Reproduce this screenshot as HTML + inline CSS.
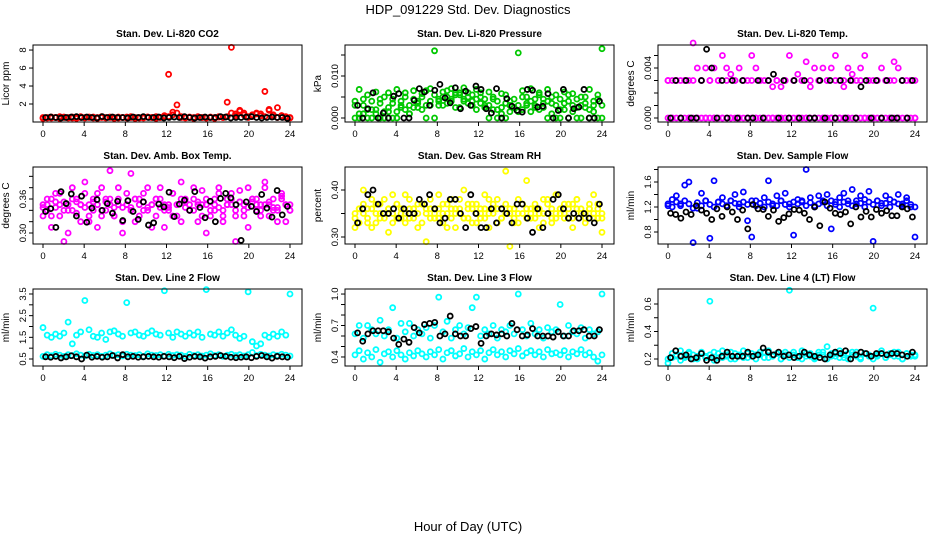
<!DOCTYPE html>
<html><head><meta charset="utf-8">
<style>
html,body{margin:0;padding:0;background:#fff;}
svg{display:block;font-family:"Liberation Sans",Arial,sans-serif;}
</style></head>
<body>
<svg id="chart" width="936" height="540" viewBox="0 0 936 540">
<text x="468" y="14" font-size="13" text-anchor="middle">HDP_091229  Std. Dev. Diagnostics</text>
<text x="468" y="531" font-size="13" text-anchor="middle">Hour of Day (UTC)</text>
</svg>
<script>
// ---- data (values per series; x = hour of day, evenly sampled) ----
const xTicks = [0,4,8,12,16,20,24];
const co2A = [0.5,0.45,0.55,0.5,0.6,0.5,0.45,0.55,0.5,0.6,0.5,0.55,0.45,0.5,0.6,0.5,0.55,0.5,0.45,0.5,0.55,0.6,0.5,0.45,0.5,0.55,0.5,0.6,0.5,0.55,5.3,0.8,1.9,0.6,0.5,0.55,0.5,0.6,0.5,0.45,0.55,0.5,0.6,0.5,2.2,8.3,0.9,1.3,1.0,0.6,0.8,0.9,0.7,3.4,1.4,0.6,1.6,0.7,0.5,0.5];
const co2B = [0.4,0.5,0.45,0.5,0.4,0.55,0.5,0.45,0.4,0.5,0.45,0.5,0.55,0.4,0.5,0.45,0.5,0.4,0.55,0.5,0.45,0.5,0.4,0.5,0.45,0.55,0.5,0.4,0.5,0.7,0.6,1.1,1.0,0.5,0.45,0.5,0.4,0.55,0.5,0.45,0.5,0.4,0.55,0.5,0.6,1.0,0.7,1.2,0.8,0.5,0.6,1.0,0.9,0.6,1.3,0.8,0.5,0.7,0.6,0.45];
const co2Black = [0.5,0.55,0.5,0.45,0.5,0.55,0.6,0.5,0.55,0.5,0.45,0.6,0.5,0.55,0.5,0.5,0.45,0.55,0.5,0.6,0.5,0.5,0.55,0.45,0.5,0.55,0.5,0.6,0.5,0.45,0.5,0.55,0.5,0.5,0.6,0.55,0.45,0.5,0.5,0.55,0.6,0.5,0.45,0.5,0.55,0.5,0.5,0.4];

const pressA = [0.0040,0.0068,0.0030,0.0055,0.0020,0.0062,0.0045,0.0015,0.0060,0.0035,0.0068,0.0025,0.0050,0.0010,0.0065,0.0040,0.0058,0.0030,0.0070,0.0160,0.0045,0.0062,0.0035,0.0070,0.0055,0.0025,0.0072,0.0060,0.0040,0.0068,0.0050,0.0030,0.0062,0.0045,0.0020,0.0058,0.0035,0.0040,0.0025,0.0155,0.0065,0.0050,0.0070,0.0030,0.0060,0.0045,0.0068,0.0035,0.0055,0.0020,0.0062,0.0040,0.0058,0.0025,0.0050,0.0035,0.0068,0.0030,0.0045,0.0165];
const pressB = [0,0,0.0010,0,0,0.0020,0,0,0.0015,0,0,0.0030,0.0020,0.0010,0.0025,0.0035,0.0020,0,0.0030,0,0.0040,0.0030,0.0050,0.0045,0.0060,0.0055,0.0040,0.0050,0.0030,0.0045,0.0035,0.0025,0,0.0020,0,0.0010,0,0.0030,0.0025,0.0015,0.0020,0.0030,0.0040,0.0025,0.0020,0.0035,0,0.0010,0,0,0.0020,0,0.0030,0,0,0.0025,0,0.0015,0,0];
const pressC = [0.0030,0.0010,0.0045,0.0020,0.0040,0.0010,0.0035,0.0050,0.0025,0.0045,0.0015,0.0040,0.0060,0.0030,0.0045,0.0025,0.0050,0.0065,0.0040,0.0055,0.0030,0.0050,0.0065,0.0040,0.0025,0.0060,0.0045,0.0035,0.0055,0.0020,0.0060,0.0045,0.0030,0.0050,0.0040,0.0025,0.0055,0.0015,0.0045,0.0030,0.0050,0.0035,0.0015,0.0045,0.0055,0.0025,0.0040,0.0050,0.0030,0.0045,0.0035,0.0055,0.0015,0.0045,0.0030,0.0050,0.0020,0.0040,0.0055,0.0030];
const pressBlack = [0.0030,0,0.0022,0.0060,0,0.0012,0,0.0052,0.0058,0,0,0.0042,0.0070,0.0062,0.0030,0.0066,0.0080,0.0048,0.0036,0.0072,0.0022,0.0064,0.0030,0.0076,0.0068,0.0022,0.0012,0.0070,0,0.0046,0.0028,0.0018,0.0014,0.0068,0.0066,0.0026,0.0028,0.0058,0,0.0018,0.0068,0,0.0022,0.0026,0.0068,0,0,0.0040];

const tempA = [0,0,0,0,0,0,0,0,0,0,0,0,0,0,0,0,0,0,0,0,0,0,0,0,0,0,0,0,0,0,0,0,0,0,0,0,0,0,0,0,0,0,0,0,0,0,0,0,0,0,0,0,0,0,0,0,0,0,0,0];
const tempB = [0.003,0.003,0.003,0.003,0.003,0.003,0.006,0.004,0.003,0.004,0.003,0.004,0.003,0.005,0.004,0.0035,0.003,0.004,0.003,0.003,0.005,0.004,0.003,0.003,0.003,0.0025,0.003,0.0025,0.003,0.005,0.003,0.0035,0.003,0.0045,0.0025,0.004,0.003,0.004,0.003,0.004,0.005,0.003,0.0025,0.004,0.0035,0.003,0.004,0.005,0.003,0.003,0.003,0.004,0.003,0.003,0.0045,0.004,0.003,0.003,0.003,0.003];
const tempC = [0.003,0,0.003,0,0.003,0,0.003,0,0.003,0,0.003,0,0.003,0,0.003,0,0.003,0,0.003,0,0.003,0,0.003,0,0.003,0,0.003,0,0.003,0,0.003,0,0.003,0,0.003,0,0.003,0,0.003,0,0.003,0,0.003,0,0.003,0,0.003,0,0.003,0,0.003,0,0.003,0,0.003,0,0.003,0,0.003,0];
const tempBlack = [0,0.003,0,0.003,0,0,0.003,0.0055,0.004,0,0.003,0,0.003,0,0.003,0,0,0.003,0,0.003,0.0035,0,0.003,0,0.003,0,0.003,0,0,0.003,0,0.003,0,0.003,0,0.003,0,0.0025,0.003,0,0.003,0,0.003,0,0,0.003,0,0.003];

const ambA = [0.345,0.36,0.33,0.37,0.35,0.285,0.34,0.38,0.355,0.32,0.39,0.35,0.34,0.37,0.33,0.36,0.41,0.345,0.38,0.32,0.35,0.405,0.36,0.33,0.37,0.345,0.31,0.36,0.38,0.34,0.35,0.37,0.33,0.39,0.355,0.34,0.36,0.32,0.375,0.35,0.33,0.36,0.38,0.34,0.35,0.37,0.285,0.355,0.33,0.38,0.36,0.34,0.35,0.39,0.33,0.36,0.345,0.37,0.32,0.35];
const ambB = [0.33,0.35,0.31,0.355,0.37,0.34,0.30,0.36,0.335,0.35,0.37,0.32,0.355,0.31,0.38,0.34,0.36,0.33,0.35,0.30,0.37,0.345,0.32,0.36,0.34,0.38,0.35,0.33,0.36,0.31,0.345,0.37,0.35,0.32,0.36,0.34,0.38,0.35,0.33,0.30,0.355,0.34,0.37,0.32,0.35,0.36,0.33,0.375,0.34,0.31,0.355,0.36,0.33,0.38,0.35,0.34,0.32,0.365,0.35,0.34];
const ambC = [0.35,0.34,0.36,0.345,0.33,0.355,0.35,0.34,0.36,0.35,0.345,0.33,0.36,0.35,0.34,0.355,0.35,0.33,0.36,0.345,0.35,0.34,0.36,0.35,0.355,0.34,0.35,0.36,0.345,0.35,0.34,0.33,0.35,0.36,0.345,0.35,0.34,0.355,0.35,0.36,0.34,0.35,0.345,0.33,0.36,0.35,0.34,0.355,0.35,0.345,0.36,0.35,0.34,0.35,0.355,0.345,0.34,0.36,0.35,0.34];
const ambBlack = [0.338,0.343,0.310,0.373,0.352,0.369,0.330,0.365,0.319,0.344,0.359,0.340,0.352,0.335,0.356,0.322,0.357,0.338,0.324,0.355,0.314,0.318,0.351,0.346,0.372,0.329,0.351,0.358,0.340,0.373,0.345,0.327,0.356,0.320,0.361,0.370,0.362,0.350,0.287,0.355,0.347,0.338,0.368,0.344,0.328,0.375,0.332,0.347];

const rhA = [0.32,0.36,0.40,0.34,0.38,0.33,0.37,0.35,0.31,0.39,0.34,0.36,0.33,0.38,0.35,0.32,0.37,0.29,0.36,0.34,0.39,0.33,0.35,0.38,0.32,0.36,0.40,0.34,0.37,0.33,0.35,0.39,0.32,0.36,0.38,0.34,0.44,0.28,0.36,0.33,0.37,0.42,0.34,0.36,0.32,0.38,0.35,0.33,0.39,0.36,0.34,0.37,0.32,0.38,0.35,0.33,0.36,0.39,0.34,0.31];
const rhB = [0.35,0.33,0.37,0.36,0.32,0.35,0.34,0.38,0.36,0.33,0.37,0.35,0.39,0.34,0.36,0.37,0.33,0.35,0.38,0.36,0.34,0.37,0.32,0.36,0.35,0.38,0.34,0.36,0.33,0.37,0.36,0.34,0.38,0.35,0.33,0.36,0.37,0.35,0.33,0.38,0.35,0.34,0.36,0.37,0.35,0.33,0.38,0.36,0.34,0.35,0.37,0.36,0.34,0.38,0.36,0.35,0.37,0.34,0.36,0.35];
const rhC = [0.34,0.36,0.35,0.33,0.36,0.37,0.35,0.34,0.36,0.35,0.37,0.34,0.35,0.36,0.34,0.35,0.37,0.36,0.34,0.35,0.36,0.35,0.37,0.34,0.36,0.35,0.34,0.37,0.36,0.35,0.34,0.36,0.35,0.37,0.36,0.34,0.35,0.36,0.34,0.35,0.37,0.36,0.35,0.34,0.36,0.35,0.37,0.34,0.35,0.36,0.35,0.34,0.37,0.36,0.35,0.34,0.36,0.35,0.37,0.34];
const rhBlack = [0.33,0.36,0.39,0.40,0.37,0.35,0.35,0.36,0.34,0.36,0.35,0.35,0.38,0.37,0.39,0.36,0.33,0.34,0.38,0.38,0.35,0.32,0.39,0.35,0.32,0.32,0.36,0.33,0.36,0.35,0.33,0.37,0.37,0.34,0.31,0.36,0.32,0.35,0.38,0.39,0.36,0.34,0.35,0.34,0.35,0.34,0.33,0.37];

const flowA = [1.22,1.32,1.38,1.25,1.55,1.60,0.63,1.18,1.42,1.30,0.70,1.62,1.28,1.35,1.22,1.30,1.40,1.25,1.44,0.98,0.72,1.30,1.26,1.35,1.62,1.22,1.38,1.30,1.42,1.25,0.75,1.32,1.28,1.80,1.35,1.22,1.38,1.30,1.40,0.85,1.28,1.35,1.42,1.30,1.48,1.25,1.38,1.32,1.45,0.65,1.30,1.26,1.38,1.32,1.28,1.40,1.25,1.35,1.20,0.72];
const flowB = [1.25,1.20,1.28,1.22,1.30,1.25,1.18,1.27,1.22,1.30,1.24,1.20,1.28,1.25,1.22,1.30,1.26,1.20,1.28,1.24,1.30,1.22,1.26,1.20,1.28,1.25,1.22,1.30,1.24,1.20,1.28,1.25,1.30,1.22,1.27,1.20,1.25,1.28,1.22,1.30,1.24,1.20,1.28,1.25,1.22,1.30,1.26,1.20,1.28,1.24,1.30,1.22,1.26,1.20,1.28,1.25,1.22,1.30,1.24,1.20];
const flowBlack = [1.10,1.08,1.02,1.12,1.08,1.22,1.15,1.10,1.00,1.17,1.05,1.20,1.12,1.00,1.15,0.85,1.24,1.17,1.16,1.05,1.15,0.97,1.03,1.09,1.16,1.15,1.10,1.00,1.20,0.90,1.28,1.18,1.10,1.08,1.12,0.93,1.20,1.04,1.13,1.04,1.16,1.10,1.14,1.06,1.06,1.20,1.17,1.04];

const line2A = [1.95,1.60,1.50,1.65,1.55,1.70,2.20,1.20,1.60,1.75,3.20,1.85,1.55,1.50,1.70,1.40,1.75,1.80,1.65,1.55,3.10,1.70,1.75,1.60,1.55,1.70,1.80,1.65,1.60,3.65,1.70,1.50,1.75,1.65,1.55,1.70,1.60,1.75,1.50,3.70,1.65,1.60,1.75,1.55,1.70,1.85,1.60,1.45,1.55,3.60,1.30,1.10,1.20,1.60,1.50,1.65,1.55,1.75,1.60,3.50];
const line2B = [0.62,0.70,0.65,0.72,0.68,0.62,0.70,0.66,0.74,0.68,0.64,0.72,0.66,0.70,0.62,0.68,0.74,0.66,0.70,0.64,0.72,0.68,0.66,0.70,0.62,0.74,0.68,0.66,0.70,0.64,0.72,0.66,0.70,0.68,0.62,0.72,0.66,0.70,0.64,0.68,0.74,0.66,0.70,0.62,0.68,0.72,0.66,0.70,0.64,0.70,0.80,0.66,0.72,0.68,0.64,0.70,0.66,0.72,0.68,0.64];
const line2Black = [0.60,0.58,0.62,0.55,0.60,0.65,0.60,0.50,0.68,0.58,0.62,0.58,0.60,0.66,0.55,0.70,0.60,0.62,0.58,0.60,0.62,0.60,0.58,0.62,0.60,0.56,0.62,0.52,0.58,0.62,0.60,0.54,0.60,0.62,0.66,0.62,0.58,0.56,0.58,0.60,0.56,0.62,0.66,0.60,0.54,0.62,0.60,0.58];

const line3A = [0.62,0.70,0.58,0.70,0.66,0.62,0.75,0.60,0.66,0.87,0.58,0.72,0.64,0.72,0.60,0.66,0.62,0.68,0.58,0.70,0.97,0.64,0.74,0.58,0.66,0.70,0.62,0.68,0.87,0.97,0.60,0.66,0.62,0.70,0.58,0.66,0.64,0.70,0.62,1.00,0.66,0.60,0.72,0.62,0.66,0.58,0.68,0.64,0.66,0.90,0.60,0.70,0.64,0.62,0.68,0.58,0.66,0.62,0.64,1.00];
const line3B = [0.42,0.46,0.38,0.44,0.40,0.47,0.35,0.43,0.45,0.40,0.46,0.42,0.38,0.44,0.41,0.46,0.43,0.40,0.45,0.42,0.47,0.38,0.44,0.46,0.41,0.43,0.48,0.40,0.45,0.42,0.46,0.38,0.44,0.47,0.42,0.45,0.40,0.46,0.43,0.48,0.41,0.44,0.46,0.42,0.45,0.40,0.47,0.43,0.44,0.42,0.46,0.40,0.45,0.43,0.47,0.42,0.44,0.40,0.36,0.42];
const line3Black = [0.63,0.55,0.62,0.65,0.65,0.65,0.64,0.58,0.52,0.57,0.54,0.68,0.63,0.71,0.72,0.73,0.60,0.62,0.79,0.62,0.60,0.60,0.67,0.69,0.53,0.60,0.62,0.61,0.62,0.60,0.72,0.66,0.60,0.61,0.67,0.60,0.60,0.60,0.59,0.64,0.60,0.60,0.65,0.65,0.66,0.60,0.60,0.66];

const line4A = [0.20,0.24,0.22,0.26,0.21,0.25,0.23,0.20,0.24,0.22,0.62,0.25,0.21,0.26,0.23,0.20,0.24,0.22,0.26,0.21,0.24,0.23,0.25,0.21,0.26,0.22,0.24,0.20,0.25,0.70,0.23,0.21,0.26,0.22,0.24,0.20,0.25,0.23,0.29,0.24,0.22,0.26,0.21,0.24,0.23,0.25,0.20,0.24,0.22,0.57,0.23,0.26,0.21,0.24,0.22,0.25,0.20,0.24,0.23,0.22];
const line4B = [0.17,0.21,0.23,0.19,0.22,0.24,0.20,0.22,0.25,0.21,0.23,0.19,0.24,0.21,0.22,0.25,0.20,0.23,0.21,0.24,0.22,0.20,0.23,0.25,0.21,0.22,0.24,0.20,0.23,0.21,0.25,0.22,0.20,0.24,0.22,0.21,0.23,0.25,0.20,0.22,0.24,0.21,0.23,0.20,0.25,0.22,0.21,0.24,0.23,0.20,0.22,0.24,0.21,0.23,0.25,0.22,0.20,0.24,0.22,0.23];
const line4Black = [0.21,0.26,0.22,0.23,0.20,0.21,0.24,0.19,0.21,0.19,0.22,0.25,0.22,0.22,0.22,0.25,0.22,0.23,0.28,0.25,0.23,0.25,0.22,0.23,0.21,0.22,0.25,0.23,0.22,0.21,0.20,0.23,0.25,0.24,0.26,0.20,0.23,0.25,0.24,0.22,0.24,0.24,0.23,0.24,0.24,0.23,0.22,0.25];

// ---- panel layout (axis domains & placement) ----
const cols = [33, 345, 658];
const rows = [45, 167, 289];
const PW = 269, PH = 77;
const panels = [
 {name:'co2',title:'Stan. Dev. Li-820 CO2',ylab:'Licor ppm',c:0,r:0,ymin:0,ymax:8.56,ticks:[2,4,6,8],labels:['2','4','6','8'],color:'#ff0000',series:[co2A,co2B],black:co2Black},
 {name:'pressure',title:'Stan. Dev. Li-820 Pressure',ylab:'kPa',c:1,r:0,ymin:-0.00095,ymax:0.01738,ticks:[0,0.005,0.010,0.015],labels:['0.000','','0.010',''],color:'#00c800',series:[pressA,pressB,pressC],black:pressBlack},
 {name:'temp',title:'Stan. Dev. Li-820 Temp.',ylab:'degrees C',c:2,r:0,ymin:-0.00032,ymax:0.00584,ticks:[0,0.001,0.002,0.003,0.004,0.005],labels:['0.000','','','','0.004',''],color:'#ff00ff',series:[tempA,tempB,tempC],black:tempBlack},
 {name:'amb-box-temp',title:'Stan. Dev. Amb. Box Temp.',ylab:'degrees C',c:0,r:1,ymin:0.2806,ymax:0.4165,ticks:[0.30,0.32,0.34,0.36,0.38,0.40],labels:['0.30','','','0.36','',''],color:'#ff00ff',series:[ambA,ambB,ambC],black:ambBlack},
 {name:'gas-rh',title:'Stan. Dev. Gas Stream RH',ylab:'percent',c:1,r:1,ymin:0.2851,ymax:0.4489,ticks:[0.30,0.35,0.40],labels:['0.30','','0.40'],color:'#ffff00',series:[rhA,rhB,rhC],black:rhBlack},
 {name:'sample-flow',title:'Stan. Dev. Sample Flow',ylab:'ml/min',c:2,r:1,ymin:0.608,ymax:1.84,ticks:[0.8,1.0,1.2,1.4,1.6,1.8],labels:['0.8','','1.2','','1.6',''],color:'#0000ff',series:[flowA,flowB],black:flowBlack},
 {name:'line2-flow',title:'Stan. Dev. Line 2 Flow',ylab:'ml/min',c:0,r:2,ymin:0.177,ymax:3.73,ticks:[0.5,1,1.5,2,2.5,3,3.5],labels:['0.5','','1.5','','2.5','','3.5'],color:'#00ffff',series:[line2A,line2B],black:line2Black},
 {name:'line3-flow',title:'Stan. Dev. Line 3 Flow',ylab:'ml/min',c:1,r:2,ymin:0.314,ymax:1.048,ticks:[0.4,0.5,0.6,0.7,0.8,0.9,1.0],labels:['0.4','','','0.7','','','1.0'],color:'#00ffff',series:[line3A,line3B],black:line3Black},
 {name:'line4-flow',title:'Stan. Dev. Line 4 (LT) Flow',ylab:'ml/min',c:2,r:2,ymin:0.149,ymax:0.709,ticks:[0.2,0.3,0.4,0.5,0.6],labels:['0.2','','0.4','','0.6'],color:'#00ffff',series:[line4A,line4B],black:line4Black}
];

const NS = 'http://www.w3.org/2000/svg';
const svg = document.getElementById('chart');
function mk(tag, attrs, parent){
  const e = document.createElementNS(NS, tag);
  for (const k in attrs) e.setAttribute(k, attrs[k]);
  (parent||svg).appendChild(e);
  return e;
}
function fmt(v){return +v.toFixed(6);}

panels.forEach(p => {
  const L = cols[p.c], T = rows[p.r], B = T + PH;
  const xS = h => L + 10 + h / 24 * 247;
  const yS = v => B - (v - p.ymin) / (p.ymax - p.ymin) * PH;
  const g = mk('g', {});
  
  

  const t = mk('text', {x: L + PW/2, y: T - 8, 'font-size': 10, 'font-weight': 'bold', 'text-anchor': 'middle'}, g);
  t.textContent = p.title;
  
  

  const yt = mk('text', {x: 0, y: 0, 'font-size': 10, 'text-anchor': 'middle', transform: 'translate(' + (L - 24) + ',' + (T + PH/2) + ') rotate(-90)'}, g);
  yt.textContent = p.ylab;
  
  

  // points
  const pg = mk('g', {fill: 'none', 'stroke-width': 1.8}, g);
  
  
  p.series.forEach(arr => {
    arr.forEach((v, i) => {
      const h = i * 24 / (arr.length - 1);
      const c = mk('circle', {cx: fmt(xS(h)), cy: fmt(yS(v)), r: 2.5, stroke: p.color}, pg);
      
      
    });
  });
  p.black.forEach((v, i) => {
    const h = (i + 0.5) * 24 / p.black.length;
    const c = mk('circle', {cx: fmt(xS(h)), cy: fmt(yS(v)), r: 2.5, stroke: '#000'}, pg);
    
    
  });

  // box
  const box = mk('rect', {x: L, y: T, width: PW, height: PH, fill: 'none', stroke: '#000', 'stroke-width': 1}, g);
  
  

  // x axis
  const xa = mk('g', {}, g);
  
  
  mk('line', {x1: xS(xTicks[0]), x2: xS(xTicks[xTicks.length-1]), y1: B, y2: B, stroke: '#000'}, xa);
  xTicks.forEach(h => {
    mk('line', {x1: xS(h), x2: xS(h), y1: B, y2: B + 4, stroke: '#000'}, xa);
    const lt = mk('text', {x: xS(h), y: B + 15, 'font-size': 9.5, 'text-anchor': 'middle'}, xa);
    lt.textContent = h;
    
    
  });

  // y axis
  const ya = mk('g', {}, g);
  
  
  mk('line', {x1: L, x2: L, y1: yS(p.ticks[0]), y2: yS(p.ticks[p.ticks.length-1]), stroke: '#000'}, ya);
  p.ticks.forEach((v, i) => {
    const y = yS(v);
    mk('line', {x1: L - 4, x2: L, y1: y, y2: y, stroke: '#000'}, ya);
    if (p.labels[i]) {
      const lt = mk('text', {x: 0, y: 0, 'font-size': 9.5, 'text-anchor': 'middle', transform: 'translate(' + (L - 7) + ',' + y + ') rotate(-90)'}, ya);
      lt.textContent = p.labels[i];
      
      
    }
  });
});
</script>
</body></html>
